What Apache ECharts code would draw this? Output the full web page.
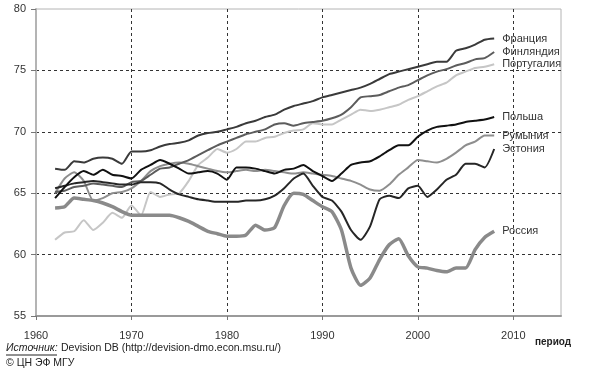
<!DOCTYPE html>
<html>
<head>
<meta charset="utf-8">
<script src="https://cdn.jsdelivr.net/npm/echarts@6/dist/echarts.min.js"></script>
<style>
html,body{margin:0;padding:0;background:#fff;}
#chart{width:590px;height:370px;}
</style>
</head>
<body>
<div id="chart"></div>
<script>
const years = [1962,1963,1964,1965,1966,1967,1968,1969,1970,1971,1972,1973,1974,1975,1976,1977,1978,1979,1980,1981,1982,1983,1984,1985,1986,1987,1988,1989,1990,1991,1992,1993,1994,1995,1996,1997,1998,1999,2000,2001,2002,2003,2004,2005,2006,2007,2008];

const france = [67.0,66.9,67.6,67.5,67.8,67.9,67.8,67.4,68.4,68.4,68.5,68.8,69.0,69.1,69.3,69.7,69.9,70.0,70.2,70.4,70.7,70.9,71.2,71.4,71.8,72.1,72.3,72.5,72.8,73.0,73.2,73.4,73.6,73.9,74.3,74.7,74.9,75.1,75.3,75.5,75.7,75.7,76.6,76.8,77.1,77.5,77.6];
const finland = [65.1,65.2,65.5,65.6,65.8,65.7,65.6,65.5,65.9,66.0,66.5,67.0,67.1,67.4,67.7,68.1,68.5,68.9,69.2,69.5,69.8,70.0,70.2,70.6,70.7,70.5,70.7,70.8,70.9,71.1,71.4,72.0,72.8,72.9,73.0,73.3,73.6,73.8,74.2,74.6,74.9,75.1,75.4,75.6,75.9,76.0,76.5];
const portugal = [61.2,61.8,61.9,62.8,62.0,62.6,63.4,63.0,64.0,63.2,65.1,64.7,64.9,65.0,66.0,67.3,67.9,68.6,68.3,68.6,69.2,69.2,69.5,69.6,69.9,70.1,70.2,70.7,70.6,70.6,71.0,71.4,71.8,71.7,71.8,72.0,72.2,72.6,72.9,73.3,73.7,74.0,74.6,74.9,75.2,75.3,75.5];
const poland = [64.6,65.5,66.3,66.8,66.5,66.9,66.5,66.4,66.2,66.9,67.3,67.7,67.4,67.0,66.6,66.7,66.8,66.6,66.1,67.1,67.1,67.0,66.8,66.6,66.9,67.0,67.3,66.8,66.4,66.0,66.6,67.3,67.5,67.6,68.0,68.5,68.9,68.9,69.6,70.1,70.4,70.5,70.6,70.8,70.9,71.0,71.2];
const romania = [65.0,66.2,66.7,66.0,64.4,64.6,65.0,65.1,65.4,66.0,66.8,67.2,67.4,67.5,67.4,67.2,67.0,66.8,66.7,66.8,66.9,66.8,66.9,66.8,66.7,66.6,66.7,66.6,66.5,66.4,66.2,66.0,65.7,65.3,65.2,65.7,66.5,67.1,67.7,67.6,67.5,67.8,68.3,68.9,69.2,69.7,69.7];
const estonia = [65.4,65.6,65.8,65.9,66.0,65.9,65.8,65.7,65.7,65.9,65.9,65.8,65.3,64.9,64.7,64.5,64.4,64.3,64.3,64.3,64.4,64.4,64.5,64.8,65.4,66.2,66.6,65.6,64.7,64.4,63.5,62.0,61.2,62.3,64.5,64.8,64.6,65.4,65.6,64.7,65.3,66.1,66.5,67.4,67.4,67.1,68.6];
const russia = [63.8,63.9,64.6,64.5,64.4,64.2,63.9,63.5,63.2,63.2,63.2,63.2,63.2,63.0,62.7,62.3,61.9,61.7,61.5,61.5,61.6,62.4,62.0,62.2,64.0,65.0,64.9,64.4,63.9,63.5,62.0,58.9,57.5,58.1,59.6,60.8,61.3,59.9,59.0,58.9,58.7,58.6,58.9,58.9,60.4,61.4,61.9];

const yTicks = [55,60,65,70,75,80];
const xTicks = [1960,1970,1980,1990,2000,2010];

const seriesDefs = [
  {name:'Португалия', data:portugal, color:'#c6c6c6', width:2},
  {name:'Румыния', data:romania, color:'#8e8e8e', width:2},
  {name:'Россия', data:russia, color:'#8a8a8a', width:3.5},
  {name:'Финляндия', data:finland, color:'#5c5c5c', width:2},
  {name:'Эстония', data:estonia, color:'#262626', width:2},
  {name:'Польша', data:poland, color:'#111111', width:2},
  {name:'Франция', data:france, color:'#3a3a3a', width:2}
];

const FONT = '"Liberation Sans", Arial, sans-serif';
const chart = echarts.init(document.getElementById('chart'), null, {renderer:'canvas'});

chart.setOption({
  animation:false,
  backgroundColor:'#ffffff',
  grid:{left:36, right:29, top:9, bottom:54, show:true, borderColor:'#b4b4b4', borderWidth:1, backgroundColor:'transparent'},
  xAxis:{
    type:'value', min:1960, max:2015, interval:10,
    axisLine:{show:true, lineStyle:{color:'#9a9a9a', width:2}},
    axisTick:{show:true, length:4, lineStyle:{color:'#777'}},
    axisLabel:{color:'#333', fontSize:11, fontFamily:FONT, margin:14, showMaxLabel:false,
      formatter:v => xTicks.indexOf(v) >= 0 ? String(v) : ''},
    splitLine:{show:true, lineStyle:{type:[3,3], width:1, color:['rgba(0,0,0,0)','#333','#333','#333','#333','#333','rgba(0,0,0,0)']}}
  },
  yAxis:{
    type:'value', min:55, max:80, interval:5,
    axisLine:{show:true, lineStyle:{color:'#b4b4b4', width:2}},
    axisTick:{show:true, length:5, lineStyle:{color:'#777'}},
    axisLabel:{color:'#333', fontSize:11, fontFamily:FONT, margin:10,
      formatter:v => yTicks.indexOf(v) >= 0 ? String(v) : ''},
    splitLine:{show:true, lineStyle:{type:[3,3], width:1, color:['rgba(0,0,0,0)','#333','#333','#333','#333','rgba(0,0,0,0)']}}
  },
  series: seriesDefs.map(s => ({
    name:s.name, type:'line', showSymbol:false, symbol:'none', smooth:0.2,
    data: years.map((y,i) => [y, s.data[i]]),
    lineStyle:{color:s.color, width:s.width},
    itemStyle:{color:s.color},
    endLabel:{show:true, formatter:'{a}', distance:8, color:'#333', fontSize:11, fontFamily:FONT},
    emphasis:{disabled:true}
  })),
  graphic:[
    {type:'text', left:535, top:337, style:{text:'период', font:'bold 10px ' + FONT, fill:'#222'}},
    {type:'text', left:6, top:343, style:{text:'Источник:', font:'italic 10.5px ' + FONT, fill:'#222'}},
    {type:'line', shape:{x1:6, y1:355, x2:57, y2:355}, style:{stroke:'#222', lineWidth:1}},
    {type:'text', left:61, top:343, style:{text:'Devision DB (http://devision-dmo.econ.msu.ru/)', font:'10.5px ' + FONT, fill:'#222'}},
    {type:'text', left:6, top:358, style:{text:'© ЦН ЭФ МГУ', font:'10.5px ' + FONT, fill:'#222'}}
  ]
});
</script>
</body>
</html>
